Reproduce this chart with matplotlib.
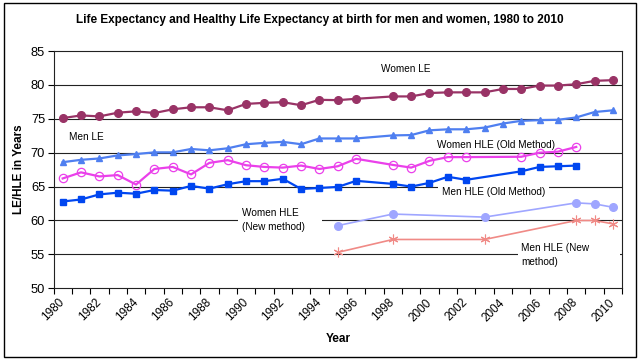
import numpy as np
import matplotlib
matplotlib.use("Agg")
import matplotlib.pyplot as plt
from matplotlib.patches import Rectangle
from matplotlib.transforms import ScaledTranslation

plt.rcParams["font.family"] = ["Liberation Sans", "DejaVu Sans"]

# ---- data ----
le_years = [1980, 1981, 1982, 1983, 1984, 1985, 1986, 1987, 1988, 1989,
            1990, 1991, 1992, 1993, 1994, 1995, 1996, 1998, 1999, 2000,
            2001, 2002, 2003, 2004, 2005, 2006, 2007, 2008, 2009, 2010]
women_le = [75.1, 75.5, 75.35, 75.9, 76.1, 75.85, 76.4, 76.7, 76.7, 76.25,
            77.2, 77.35, 77.45, 77.0, 77.8, 77.75, 77.95, 78.3, 78.3, 78.8,
            78.9, 78.9, 78.9, 79.4, 79.4, 79.9, 79.9, 80.1, 80.6, 80.7]
men_le = [68.6, 68.95, 69.15, 69.6, 69.8, 70.05, 70.05, 70.55, 70.35, 70.65,
          71.25, 71.45, 71.6, 71.25, 72.1, 72.1, 72.1, 72.55, 72.6, 73.3,
          73.45, 73.45, 73.7, 74.3, 74.7, 74.8, 74.85, 75.2, 76.0, 76.25]

old_years = [1980, 1981, 1982, 1983, 1984, 1985, 1986, 1987, 1988, 1989,
             1990, 1991, 1992, 1993, 1994, 1995, 1996, 1998, 1999, 2000,
             2001, 2002, 2005, 2006, 2007, 2008]
women_hle_old = [66.2, 67.1, 66.5, 66.7, 65.3, 67.6, 67.9, 66.8, 68.5, 68.9,
                 68.15, 67.9, 67.8, 68.1, 67.6, 68.0, 69.1, 68.2, 67.8, 68.8,
                 69.35, 69.35, 69.4, 70.0, 70.15, 70.85]
men_hle_old = [62.8, 63.1, 63.85, 64.1, 63.95, 64.5, 64.4, 65.1, 64.7, 65.35,
               65.8, 65.8, 66.15, 64.65, 64.8, 64.95, 65.85, 65.4, 65.0, 65.55,
               66.45, 66.0, 67.25, 67.9, 68.0, 68.1]

new_years = [1995, 1998, 2003, 2008, 2009, 2010]
women_hle_new = [59.25, 60.95, 60.5, 62.6, 62.45, 61.95]
men_hle_new = [55.3, 57.2, 57.2, 60.0, 60.0, 59.5]

label_years = list(range(1980, 2011, 2))

# ---- plot ----
fig = plt.figure(figsize=(6.4, 3.63), dpi=100)
ax = fig.add_axes([0.0836, 0.2058, 0.8884, 0.6537])

# chart border
fig.patches.append(Rectangle((0.006, 0.016), 0.988, 0.976, transform=fig.transFigure,
                             fill=False, edgecolor="black", linewidth=1.0))

for v in range(55, 85, 5):
    ax.axhline(v, color="#222222", linewidth=0.8, zorder=0.5)

ax.plot(le_years, women_le, color="#993366", lw=1.6, marker="o", ms=5.5, zorder=3)
ax.plot(le_years, men_le, color="#4F7FF0", lw=1.6, marker="^", ms=5, zorder=3)
ax.plot(old_years, women_hle_old, color="#EA40EA", lw=1.6, marker="o", ms=6,
        mfc="none", mec="#EA40EA", mew=0.9, zorder=3)
ax.plot(old_years, men_hle_old, color="#0046F0", lw=1.6, marker="s", ms=5, zorder=3)
ax.plot(new_years, women_hle_new, color="#9FA6FF", lw=1.2, marker="o", ms=5.5, zorder=3)
ax.plot(new_years, men_hle_new, color="#F08A86", lw=1.2, marker=(6, 2, 0), ms=7,
        mew=0.8, zorder=3)

# white text boxes of the two "new method" labels
ax.add_patch(Rectangle((1989.55, 57.7), 4.6, 4.6, fc="white", ec="none", zorder=1))
ax.add_patch(Rectangle((2004.85, 53.0), 5.55, 4.1, fc="white", ec="none", zorder=1))

# labels on the chart
fs = 7.2
ax.text(1998.7, 82.4, "Women LE", fontsize=fs, ha="center", va="center")
ax.text(1980.35, 72.25, "Men LE", fontsize=fs, ha="left", va="center")
ax.text(2003.6, 71.15, "Women HLE (Old Method)", fontsize=fs, ha="center", va="center")
ax.text(2003.5, 64.2, "Men HLE (Old Method)", fontsize=fs, ha="center", va="center",
        bbox=dict(boxstyle="square,pad=0.4", fc="white", ec="none"), zorder=1)
ax.text(1989.75, 60.0, "Women HLE\n(New method)", fontsize=fs, ha="left", va="center",
        linespacing=1.5, zorder=1.2)
ax.text(2005.0, 54.95, "Men HLE (New\nmethod)", fontsize=fs, ha="left", va="center",
        linespacing=1.5, zorder=1.2)

# axes
ax.set_xlim(1979.5, 2010.5)
ax.set_ylim(50, 85)
ax.set_yticks(range(50, 90, 5))
ax.set_xticks(np.arange(1979.5, 2011, 1))
ax.set_xticklabels([])
ax.set_xticks(label_years, minor=True)
ax.set_xticklabels([str(y) for y in label_years], minor=True, rotation=45,
                   ha="right", va="center", rotation_mode="anchor", fontsize=8.5)
shift = ScaledTranslation(-6 / 100, 0, fig.dpi_scale_trans)
for lbl in ax.get_xticklabels(minor=True):
    lbl.set_transform(lbl.get_transform() + shift)
ax.tick_params(axis="x", which="major", direction="out", length=4, width=0.8)
ax.tick_params(axis="x", which="minor", length=0, pad=9)
ax.tick_params(axis="y", direction="out", length=4, width=0.8, labelsize=9.3, pad=2)

for s in ax.spines.values():
    s.set_color("#222222")
    s.set_linewidth(0.8)

ax.set_xlabel("Year", fontsize=8.5, fontweight="bold", labelpad=7)
ax.set_ylabel("LE/HLE in Years", fontsize=8.5, fontweight="bold", labelpad=4)
fig.text(0.5, 0.945, "Life Expectancy and Healthy Life Expectancy at birth for men and women, 1980 to 2010",
         ha="center", va="center", fontsize=8.5, fontweight="bold")

fig.savefig("out.png", dpi=100)
